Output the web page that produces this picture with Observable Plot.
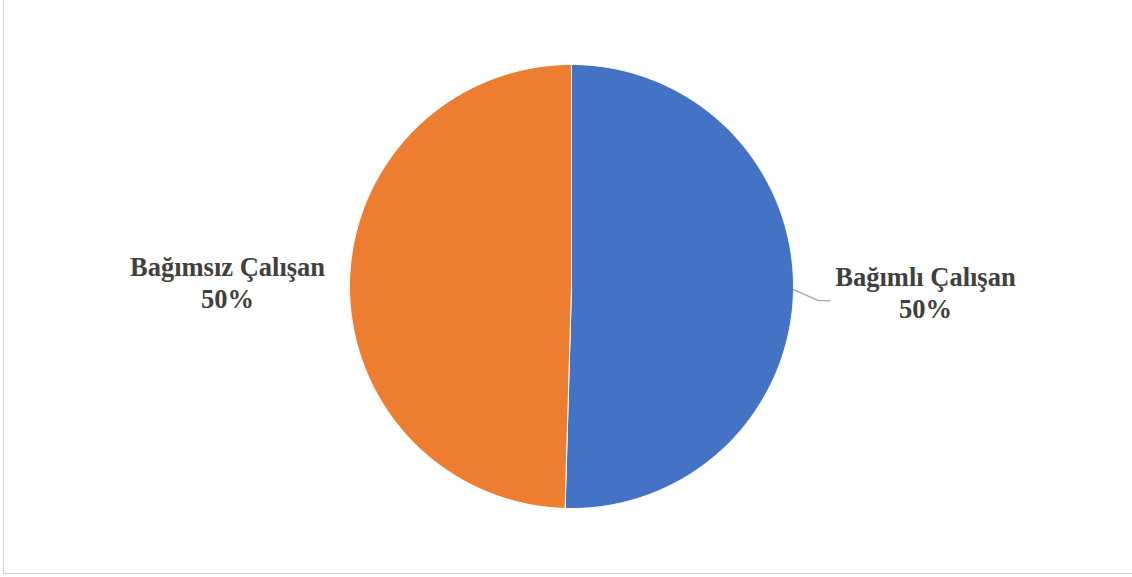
<!DOCTYPE html>
<html>
<head>
<meta charset="utf-8">
<script src="https://cdn.jsdelivr.net/npm/d3@7"></script>
<script src="https://cdn.jsdelivr.net/npm/@observablehq/plot@0.6"></script>
<style>
  body { margin: 0; background: #fff; overflow: hidden; }
  #wrap { position: relative; width: 1132px; height: 577px; overflow: hidden; }
  #border { position: absolute; left: 3px; top: -2px; width: 1200px; height: 575px;
            border-left: 1px solid #d0d0d0; border-bottom: 1px solid #d0d0d0; }
  #chart { position: absolute; left: 0; top: 0; }
</style>
</head>
<body>
<div id="wrap"><div id="border"></div><div id="chart"></div></div>
<script>
// ---- data ----
const categories = ["Bağımlı Çalışan", "Bağımsız Çalışan"];
const values = [50.46, 49.54];
const valueLabels = ["50%", "50%"];
const colors = ["#4472C4", "#ED7D31"];

// ---- layout ----
const W = 1132, H = 577;
const cx = 571, cy = 286, r = 222;
const labelRadius = 349, labelDx = 5, labelDy = 0.5;

const arcs = d3.pie().sort(null)(values);
const polar = (rad, a) => ({ x: cx + rad * Math.sin(a), y: cy - rad * Math.cos(a) });

const sliceMarks = arcs.map((a, i) => {
  const pts = [{ x: cx, y: cy }];
  const n = Math.ceil((a.endAngle - a.startAngle) / (Math.PI / 360));
  for (let k = 0; k <= n; k++) pts.push(polar(r, a.startAngle + (a.endAngle - a.startAngle) * k / n));
  pts.push({ x: cx, y: cy });
  return Plot.line(pts, { x: "x", y: "y", fill: colors[i], stroke: "white", strokeWidth: 1, strokeLinejoin: "round" });
});

const labelData = arcs.map((a, i) => {
  const mid = (a.startAngle + a.endAngle) / 2;
  const p = polar(labelRadius, mid);
  return { x: p.x + labelDx, y: p.y + labelDy, text: categories[i] + "\n" + valueLabels[i] };
});

// leader line for the first slice (right side)
const mid0 = (arcs[0].startAngle + arcs[0].endAngle) / 2;
const e0 = polar(r, mid0);
const leader = [e0, { x: e0.x + 25, y: e0.y + 11 }, { x: e0.x + 36, y: e0.y + 11 }];

const chart = Plot.plot({
  width: W, height: H, margin: 0,
  x: { domain: [0, W], range: [0, W], axis: null },
  y: { domain: [0, H], range: [0, H], axis: null },
  style: { background: "transparent" },
  marks: [
    ...sliceMarks,
    Plot.line(leader, { x: "x", y: "y", stroke: "#a6a6a6", strokeWidth: 1.3 }),
    Plot.text(labelData, {
      x: "x", y: "y", text: "text",
      fontFamily: "Liberation Serif", fontWeight: "bold", fontSize: 26.5,
      fill: "#404040", textAnchor: "middle", lineAnchor: "middle", lineHeight: 1.18
    })
  ]
});
document.getElementById("chart").appendChild(chart);
</script>
</body>
</html>
